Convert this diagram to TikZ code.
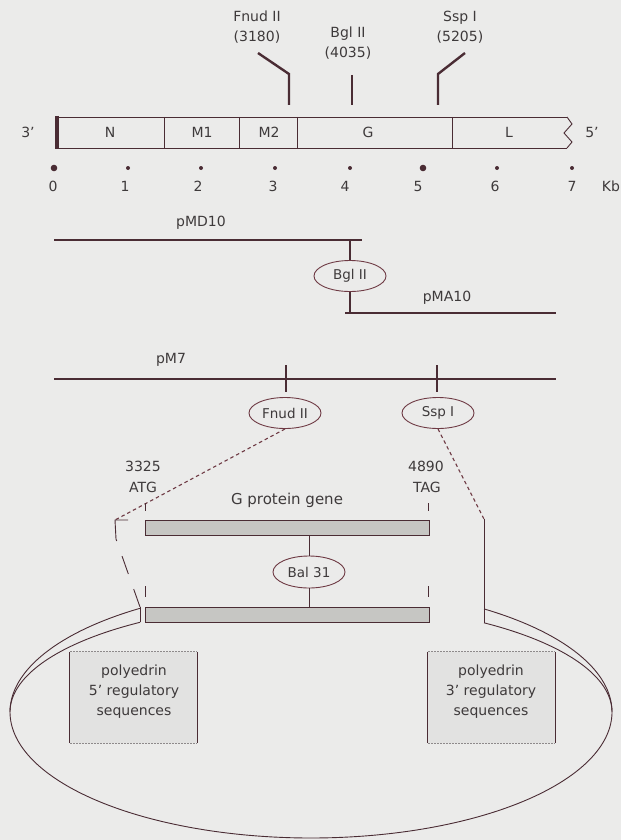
\documentclass[tikz,border=0pt]{standalone}
\usepackage{fontspec}
\setmainfont{DejaVu Sans}
\usetikzlibrary{shapes.geometric}
\definecolor{bgcol}{HTML}{EBEBEA}
\definecolor{inkline}{HTML}{4A2C34}
\definecolor{inktext}{HTML}{3E3A3B}
\definecolor{ovalline}{HTML}{6E3A44}
\definecolor{genefill}{HTML}{C6C6C3}
\definecolor{boxfill}{HTML}{E2E2E1}
\definecolor{boxedge}{HTML}{8E8A8B}
\begin{document}
\begin{tikzpicture}[x=1pt,y=-1pt,
  lbl/.style={text=inktext, font=\fontsize{14}{20}\selectfont, inner sep=0pt, align=center},
  enzyme/.style={ellipse, draw=ovalline, line width=0.9pt, minimum width=72pt,
    minimum height=31pt, inner sep=0pt, text=inktext, font=\fontsize{13.5}{16}\selectfont},
  thinline/.style={draw=inkline, line width=0.9pt},
  siteline/.style={draw=inkline, line width=2.4pt},
  vector/.style={draw=inkline, line width=1.7pt},
  cutline/.style={draw=ovalline, line width=1.1pt, dash pattern=on 3.5pt off 3pt},
  genebar/.style={draw=inkline, line width=0.9pt, fill=genefill},
  regbox/.style={fill=boxfill, rectangle, minimum width=127pt, minimum height=91pt, inner sep=0pt},
  boxside/.style={draw=inkline, line width=0.9pt},
  boxrim/.style={draw=boxedge, line width=0.9pt, dash pattern=on 2pt off 1pt},
]
% canvas
\fill[bgcol] (0,0) rectangle (621,840);
\useasboundingbox (0,0) rectangle (621,840);

% ---------- restriction sites on the genome ----------
\node[lbl] (fnudlbl) at (257,27) {Fnud II\\(3180)};
\node[lbl] (bgllbl)  at (348,43) {Bgl II\\(4035)};
\node[lbl] (ssplbl)  at (460,27) {Ssp I\\(5205)};
\draw[siteline] (258,53) -- (289,74) -- (289,105);
\draw[siteline] (352,75) -- (352,105);
\draw[siteline] (465,53) -- (438,74) -- (438,105);

% ---------- genome map ----------
\draw[thinline] (57,117) -- (567,117);
\draw[thinline] (57,148) -- (567,148);
\draw[thinline] (567,117) -- (572,124) -- (564,133) -- (572,142) -- (567,148);
\draw[inkline, line width=3.5pt] (57,116) -- (57,149);
\foreach \x in {164,239,297,452} \draw[thinline] (\x,117) -- (\x,148);
\node[lbl] (three) at (28,132) {3'};
\node[lbl] (geneN) at (110,132) {N};
\node[lbl] (geneM1) at (202,132) {M1};
\node[lbl] (geneM2) at (269,132) {M2};
\node[lbl] (geneG) at (368,132) {G};
\node[lbl] (geneL) at (509,132) {L};
\node[lbl] (five) at (592,132) {5'};

% ---------- kilobase scale ----------
\foreach \x/\r in {54/3.3,128/2,201/2,275/2,350/2,423/3.3,497/2,572/2}
  \fill[inkline] (\x,168) circle (\r);
\foreach \x/\t in {53/0,125/1,198/2,273/3,345/4,418/5,495/6,572/7}
  \node[lbl] at (\x,186) {\t};
\node[lbl] (kb) at (611,186) {Kb};

% ---------- pMD10 / pMA10 ----------
\node[lbl] (mdlbl) at (201,223) {pMD10};
\coordinate (mdL) at (54,240);
\coordinate (mdR) at (362,240);
\coordinate (mdJ) at (350,240);
\draw[vector] (mdL) -- (mdR);
\node[enzyme] (bgl) at (350,276) {Bgl II};
\coordinate (maL) at (345,313);
\coordinate (maJ) at (350,313);
\coordinate (maR) at (556,313);
\draw[vector] (maL) -- (maR);
\draw[thinline, line width=1.2pt] (mdJ) -- (bgl.north);
\draw[thinline, line width=1.2pt] (bgl.south) -- (maJ);
\node[lbl] (malbl) at (447,298) {pMA10};

% ---------- pM7 ----------
\node[lbl] (m7lbl) at (171,360) {pM7};
\coordinate (m7L) at (54,379);
\coordinate (m7R) at (556,379);
\draw[vector] (m7L) -- (m7R);
\draw[thinline, line width=1.2pt] (286,365) -- (286,392);
\draw[thinline, line width=1.2pt] (437,365) -- (437,392);
\node[enzyme] (fnud) at (285,413) {Fnud II};
\node[enzyme] (ssp) at (438,413) {Ssp I};

% ---------- G protein gene ----------
\coordinate (brk) at (115,520);
\coordinate (rtop) at (484,519);
\draw[cutline] (fnud.south) -- (brk);
\draw[cutline] (ssp.south) -- (rtop);

\node[lbl] (atgpos) at (143,466) {3325};
\node[lbl] (atg) at (143,487) {ATG};
\node[lbl] (tagpos) at (426,466) {4890};
\node[lbl] (tag) at (427,487) {TAG};
\node[lbl, font=\fontsize{15}{18}\selectfont] (gname) at (287,500) {G protein gene};
\draw[thinline] (145,503) -- (145,511);
\draw[thinline] (428,503) -- (428,511);
\draw[genebar] (145,520) rectangle (429,535);

\node[enzyme, minimum height=32pt] (bal) at (309,572) {Bal 31};
\draw[thinline] (309,535) -- (bal.north);
\draw[thinline] (bal.south) -- (309,607);
\draw[thinline] (145,586) -- (145,597);
\draw[thinline] (428,586) -- (428,597);
\draw[genebar] (145,607) rectangle (429,622);

% opened ends of the transfer vector
\draw[thinline] (128,520) -- (brk) -- (116,539);
\draw[thinline, dash pattern=on 19pt off 16pt] (140,607) -- (116,539);
\draw[thinline] (140,607) -- (140,622);
\draw[thinline] (rtop) -- (484,623);

% ---------- plasmid ----------
\draw[thinline] plot[domain=-54.9:235.4, samples=240, smooth]
  ({311+301*cos(\x)}, {712+126*sin(\x)});
\draw[thinline] plot[domain=180:235.4, samples=60, smooth]
  ({311+301*cos(\x)}, {712+109*sin(\x)});
\draw[thinline] plot[domain=-54.9:0, samples=60, smooth]
  ({311+301*cos(\x)}, {712+109*sin(\x)});

% ---------- polyhedrin regulatory regions ----------
\node[regbox] (reg5) at (133.5,697.5) {};
\draw[boxrim] (reg5.north west) -- (reg5.north east);
\draw[boxrim] (reg5.south west) -- (reg5.south east);
\draw[boxside] (reg5.north west) -- (reg5.south west);
\draw[boxside] (reg5.north east) -- (reg5.south east);
\node[lbl] (reg5txt) at (134,692) {polyedrin\\5' regulatory\\sequences};
\node[regbox] (reg3) at (491.5,697.5) {};
\draw[boxrim] (reg3.north west) -- (reg3.north east);
\draw[boxrim] (reg3.south west) -- (reg3.south east);
\draw[boxside] (reg3.north west) -- (reg3.south west);
\draw[boxside] (reg3.north east) -- (reg3.south east);
\node[lbl] (reg3txt) at (491,692) {polyedrin\\3' regulatory\\sequences};
\end{tikzpicture}
\end{document}
